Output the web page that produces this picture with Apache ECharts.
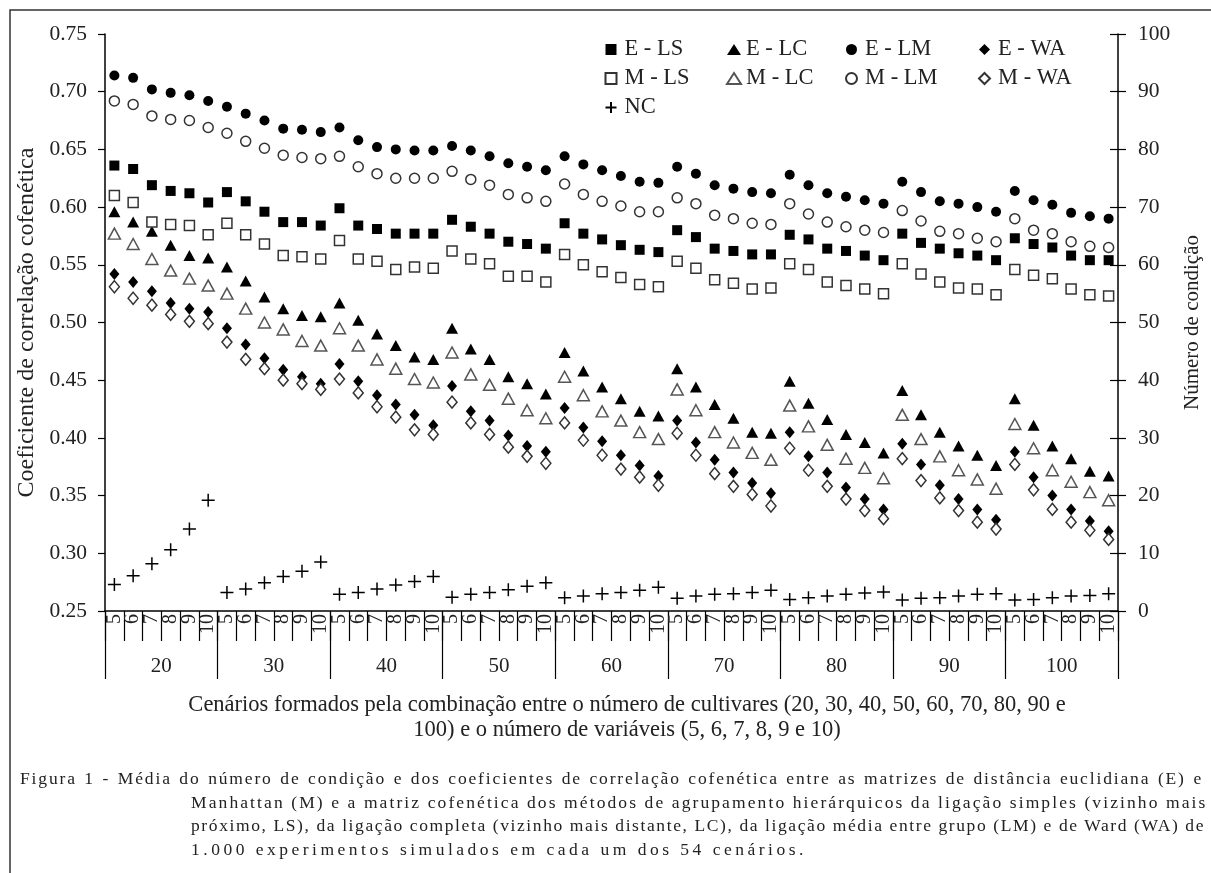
<!DOCTYPE html>
<html>
<head>
<meta charset="utf-8">
<script src="https://cdn.jsdelivr.net/npm/echarts@6/dist/echarts.min.js"></script>
<style>
  html, body { margin: 0; padding: 0; background: #fff; }
  #chart { position: absolute; left: 0; top: 0; width: 1211px; height: 873px; }
  #caption { position: absolute; left: 20px; top: 767px; width: 1183px;
    font-family: 'Liberation Serif', 'Times New Roman', serif; font-size: 17.5px;
    color: #222; line-height: 23.5px; }
  #caption div { white-space: nowrap; }
  #caption .j { text-align: justify; text-align-last: justify; }
  #caption .ind { padding-left: 171px; }
  #caption .l1 { letter-spacing: 1.85px; }
  #caption .l2 { letter-spacing: 2.1px; }
  #caption .l3 { letter-spacing: 1.6px; }
  #caption .l4 { letter-spacing: 3.5px; }
</style>
</head>
<body>
<div id="chart"></div>
<div id="caption">
  <div class="j l1">Figura 1 - Média do número de condição e dos coeficientes de correlação cofenética entre as matrizes de distância euclidiana (E) e</div>
  <div class="j ind l2">Manhattan (M) e a matriz cofenética dos métodos de agrupamento hierárquicos da ligação simples (vizinho mais</div>
  <div class="j ind l3">próximo, LS), da ligação completa (vizinho mais distante, LC), da ligação média entre grupo (LM) e de Ward (WA) de</div>
  <div class="ind l4">1.000 experimentos simulados em cada um dos 54 cenários.</div>
</div>
<script>
// ---------- data ----------
const groups = ['20', '30', '40', '50', '60', '70', '80', '90', '100'];
const variables = ['5', '6', '7', '8', '9', '10'];
const leftTicks = [0.25, 0.75, 0.05];
const rightTicks = [0, 100, 10];

const eLS = [0.636,0.633,0.619,0.614,0.612,0.604, 0.613,0.605,0.596,0.587,0.587,0.584, 0.599,0.584,0.581,0.577,0.577,0.577, 0.589,0.583,0.577,0.570,0.568,0.564, 0.586,0.577,0.572,0.567,0.563,0.561, 0.580,0.574,0.564,0.562,0.559,0.559, 0.576,0.572,0.564,0.562,0.558,0.554, 0.577,0.569,0.564,0.560,0.558,0.554, 0.573,0.568,0.565,0.558,0.554,0.554];
const eLC = [0.596,0.587,0.579,0.567,0.558,0.556, 0.548,0.536,0.522,0.512,0.506,0.505, 0.517,0.502,0.490,0.480,0.470,0.468, 0.495,0.477,0.468,0.453,0.447,0.438, 0.474,0.458,0.444,0.434,0.423,0.419, 0.460,0.444,0.429,0.417,0.405,0.404, 0.449,0.430,0.416,0.403,0.396,0.387, 0.441,0.420,0.405,0.393,0.385,0.376, 0.434,0.411,0.393,0.382,0.371,0.367];
const eLM = [0.714,0.712,0.702,0.699,0.697,0.692, 0.687,0.681,0.675,0.668,0.667,0.665, 0.669,0.658,0.652,0.650,0.649,0.649, 0.653,0.649,0.644,0.638,0.635,0.632, 0.644,0.637,0.632,0.627,0.622,0.621, 0.635,0.629,0.619,0.616,0.613,0.612, 0.628,0.619,0.612,0.609,0.606,0.603, 0.622,0.613,0.605,0.603,0.600,0.596, 0.614,0.606,0.602,0.595,0.592,0.590];
const eWA = [0.542,0.535,0.527,0.517,0.512,0.509, 0.495,0.481,0.469,0.459,0.453,0.447, 0.464,0.449,0.437,0.429,0.420,0.411, 0.445,0.423,0.415,0.402,0.393,0.388, 0.426,0.409,0.397,0.385,0.376,0.367, 0.415,0.396,0.381,0.370,0.361,0.352, 0.405,0.384,0.370,0.357,0.347,0.338, 0.395,0.377,0.359,0.347,0.338,0.329, 0.388,0.366,0.350,0.338,0.328,0.319];
const mLS = [0.610,0.604,0.587,0.585,0.584,0.576, 0.586,0.576,0.568,0.558,0.557,0.555, 0.571,0.555,0.553,0.546,0.548,0.547, 0.562,0.555,0.551,0.540,0.540,0.535, 0.559,0.550,0.544,0.539,0.533,0.531, 0.553,0.547,0.537,0.534,0.529,0.530, 0.551,0.546,0.535,0.532,0.529,0.525, 0.551,0.542,0.535,0.530,0.529,0.524, 0.546,0.541,0.538,0.529,0.524,0.523];
const mLC = [0.577,0.568,0.555,0.545,0.538,0.532, 0.525,0.512,0.500,0.494,0.484,0.480, 0.495,0.480,0.468,0.460,0.451,0.448, 0.474,0.455,0.446,0.434,0.424,0.417, 0.453,0.437,0.423,0.415,0.405,0.399, 0.442,0.424,0.405,0.396,0.387,0.381, 0.428,0.410,0.394,0.382,0.374,0.365, 0.420,0.399,0.384,0.372,0.364,0.356, 0.412,0.391,0.372,0.362,0.353,0.346];
const mLM = [0.692,0.689,0.679,0.676,0.675,0.669, 0.664,0.657,0.651,0.645,0.643,0.642, 0.644,0.635,0.629,0.625,0.625,0.625, 0.631,0.624,0.619,0.611,0.608,0.605, 0.620,0.611,0.605,0.601,0.596,0.596, 0.608,0.603,0.593,0.590,0.586,0.585, 0.603,0.594,0.587,0.583,0.580,0.578, 0.597,0.588,0.579,0.577,0.573,0.570, 0.590,0.580,0.577,0.570,0.566,0.565];
const mWA = [0.531,0.521,0.515,0.507,0.501,0.499, 0.483,0.468,0.460,0.450,0.447,0.442, 0.451,0.439,0.427,0.418,0.407,0.403, 0.431,0.413,0.403,0.392,0.384,0.378, 0.413,0.398,0.385,0.373,0.366,0.359, 0.404,0.385,0.369,0.358,0.351,0.341, 0.391,0.372,0.358,0.347,0.337,0.330, 0.382,0.363,0.348,0.337,0.327,0.321, 0.377,0.355,0.338,0.327,0.320,0.312];
const nc  = [4.6,6.1,8.2,10.6,14.2,19.2, 3.2,3.8,4.9,6.0,6.9,8.5, 2.9,3.2,3.8,4.5,5.1,6.0, 2.4,2.9,3.2,3.7,4.3,4.9, 2.3,2.6,3.0,3.2,3.6,4.1, 2.2,2.6,2.9,3.0,3.2,3.6, 2.0,2.3,2.6,2.9,3.1,3.3, 1.9,2.2,2.3,2.6,2.9,3.0, 1.9,2.0,2.3,2.6,2.7,3.0];

// ---------- build ----------
const categories = [];
groups.forEach(g => variables.forEach(v => categories.push(g + '|' + v)));

const FONT = "'Liberation Serif', 'Times New Roman', serif";
const TXT = '#222';
const PLUS = 'path://M0,6L12,6M6,0L6,12';

function mk(name, data, symbol, size, filled, stroke, yIdx) {
  return {
    name: name, type: 'scatter', data: data, xAxisIndex: 0, yAxisIndex: yIdx || 0,
    symbol: symbol, symbolSize: size,
    itemStyle: filled
      ? { color: '#000', borderColor: '#000', borderWidth: 0, opacity: 1 }
      : { color: symbol === PLUS ? 'none' : '#fff', borderColor: stroke, borderWidth: 1.5, opacity: 1 },
    emphasis: { disabled: true }, silent: true
  };
}

const series = [
  mk('E - LS', eLS, 'rect', 10, true),
  mk('E - LC', eLC, 'triangle', [12, 11], true),
  mk('E - LM', eLM, 'circle', 10, true),
  mk('E - WA', eWA, 'diamond', [10, 12], true),
  mk('M - LS', mLS, 'rect', 10, false, '#333'),
  mk('M - LC', mLC, 'triangle', [12, 11], false, '#555'),
  mk('M - LM', mLM, 'circle', 10, false, '#333'),
  mk('M - WA', mWA, 'diamond', [10, 12], false, '#333'),
  mk('NC', nc, PLUS, 13, false, '#000', 1)
];

function legend(left, names, iw, pad) {
  return {
    orient: 'vertical', left: left, top: 35, itemGap: 0, padding: 0,
    itemWidth: iw || 11, itemHeight: 11, selectedMode: false,
    data: names,
    textStyle: { fontFamily: FONT, fontSize: 22.5, color: TXT, lineHeight: 29,
      padding: [0, 0, 0, pad === undefined ? 3 : pad] }
  };
}

const chart = echarts.init(document.getElementById('chart'), null, { renderer: 'canvas' });
chart.setOption({
  animation: false,
  backgroundColor: '#fff',
  grid: { left: 105, top: 34, width: 1017, height: 577, containLabel: false },
  legend: [
    legend(603, ['E - LS', 'M - LS', 'NC']),
    legend(726, ['E - LC', 'M - LC'], 14, 0),
    legend(845, ['E - LM', 'M - LM']),
    legend(978, ['E - WA', 'M - WA'])
  ],
  xAxis: [
    {
      type: 'category', data: categories, position: 'bottom', boundaryGap: true,
      axisLine: { show: true, lineStyle: { color: '#000', width: 1.5 } },
      axisTick: { show: true, interval: 0, alignWithLabel: false, length: 30, lineStyle: { color: '#000', width: 1.2 } },
      axisLabel: { show: true, interval: 0, rotate: 90, margin: 3, fontFamily: FONT, fontSize: 20, color: TXT,
        formatter: v => v.split('|')[1] },
      splitLine: { show: false }
    },
    {
      type: 'category', data: groups, position: 'bottom', boundaryGap: true,
      axisLine: { show: false },
      axisTick: { show: true, interval: 0, alignWithLabel: false, length: 68, lineStyle: { color: '#000', width: 1.2 } },
      axisLabel: { show: true, interval: 0, margin: 45, fontFamily: FONT, fontSize: 21, color: TXT },
      splitLine: { show: false }
    }
  ],
  yAxis: [
    {
      type: 'value', position: 'left', min: leftTicks[0], max: leftTicks[1], interval: leftTicks[2],
      axisLine: { show: true, lineStyle: { color: '#000', width: 1.5 } },
      axisTick: { show: true, length: 7, lineStyle: { color: '#000', width: 1.2 } },
      axisLabel: { margin: 18, fontFamily: FONT, fontSize: 21.5, color: TXT, formatter: v => v.toFixed(2) },
      splitLine: { show: false },
      name: 'Coeficiente de correlação cofenética', nameLocation: 'middle', nameGap: 66,
      nameTextStyle: { fontFamily: FONT, fontSize: 24, color: TXT }
    },
    {
      type: 'value', position: 'right', min: rightTicks[0], max: rightTicks[1], interval: rightTicks[2],
      axisLine: { show: true, lineStyle: { color: '#000', width: 1.5 } },
      axisTick: { show: true, length: 8, lineStyle: { color: '#000', width: 1.2 } },
      axisLabel: { margin: 20, fontFamily: FONT, fontSize: 21.5, color: TXT },
      splitLine: { show: false },
      name: 'Número de condição', nameLocation: 'middle', nameGap: 64,
      nameTextStyle: { fontFamily: FONT, fontSize: 21, color: TXT }
    },
    {
      type: 'value', position: 'right', min: rightTicks[0], max: rightTicks[1], interval: rightTicks[2],
      axisLine: { show: false },
      axisTick: { show: true, inside: true, length: 8, lineStyle: { color: '#000', width: 1.2 } },
      axisLabel: { show: false }, splitLine: { show: false }
    }
  ],
  graphic: [
    { type: 'polyline', silent: true, shape: { points: [[10, 873], [10, 10], [1211, 10]] },
      style: { stroke: '#333', lineWidth: 1.5, fill: null } },
    { type: 'text', silent: true, x: 627, y: 718,
      style: { text: 'Cenários formados pela combinação entre o número de cultivares (20, 30, 40, 50, 60, 70, 80, 90 e\n100) e o número de variáveis (5, 6, 7, 8, 9 e 10)',
        fontFamily: FONT, fontSize: 22.5, fill: TXT, align: 'center', verticalAlign: 'middle', lineHeight: 25 } }
  ],
  series: series
});
</script>
</body>
</html>
